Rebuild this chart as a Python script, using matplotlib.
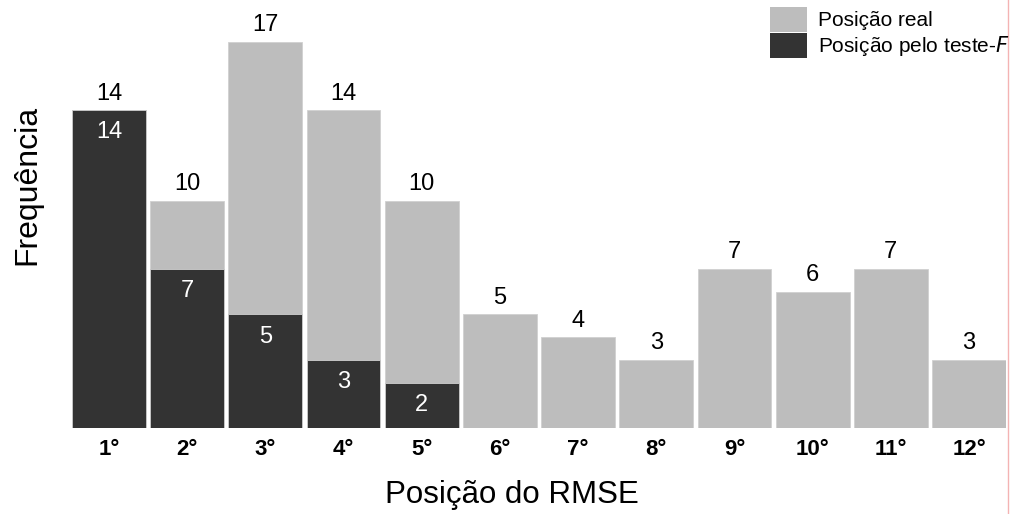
import matplotlib.pyplot as plt
from matplotlib.lines import Line2D
from matplotlib.patches import Patch

plt.rcParams['font.family'] = ['Liberation Sans', 'DejaVu Sans']

posicoes = ['1°', '2°', '3°', '4°', '5°', '6°', '7°', '8°', '9°', '10°', '11°', '12°']
real = [14, 10, 17, 14, 10, 5, 4, 3, 7, 6, 7, 3]
teste_f = [14, 7, 5, 3, 2, 0, 0, 0, 0, 0, 0, 0]

light = '#bdbdbd'
dark = '#333333'

fig = plt.figure(figsize=(10.13, 5.14), dpi=100)
ax = fig.add_axes([72 / 1013, 86 / 514, (1006 - 72) / 1013, 428 / 514])

x = list(range(1, len(posicoes) + 1))
w = 0.945
ax.bar(x, real, w, color=light, edgecolor='#d0d0d0', linewidth=0.6)
ax.bar(x, teste_f, w, color=dark, edgecolor='#d0d0d0', linewidth=0.6)

for xi, r, f in zip(x, real, teste_f):
    ax.annotate(str(r), (xi, r), xytext=(0, 4), textcoords='offset points',
                ha='center', va='bottom', fontsize=17)
    if f > 0:
        ax.annotate(str(f), (xi, f), xytext=(0, -16), textcoords='offset points',
                    ha='center', va='center', fontsize=17, color='white')

ax.set_xlim(1 - w / 2, 12 + w / 2)
ax.set_ylim(0, 428 / 22.71)
ax.set_xticks(x)
ax.set_xticklabels(posicoes, fontsize=16, fontweight='bold')
ax.tick_params(axis='x', length=0, pad=8)
ax.set_yticks([])
for s in ax.spines.values():
    s.set_visible(False)

ax.set_xlabel('Posição do RMSE', fontsize=22.5)
ax.xaxis.set_label_coords((512 - 72) / (1006 - 72), -52 / 428)
ax.set_ylabel('Frequência', fontsize=23)
ax.yaxis.set_label_coords(-30 / 934, 0.568)

handles = [Patch(facecolor=light, label='Posição real'),
           Patch(facecolor=dark, label='Posição pelo teste-$\\mathit{F}$')]
fig.legend(handles=handles, loc='upper left', bbox_to_anchor=(770 / 1013, 1 - 7 / 514),
           frameon=False, fontsize=15, handlelength=1.78, handleheight=1.45,
           labelspacing=0.05, handletextpad=0.5, borderaxespad=0, borderpad=0)

fig.add_artist(Line2D([1008 / 1013, 1008 / 1013], [0, 1], color='#f4b3b3', linewidth=1))

fig.savefig('out.png', dpi=100)
